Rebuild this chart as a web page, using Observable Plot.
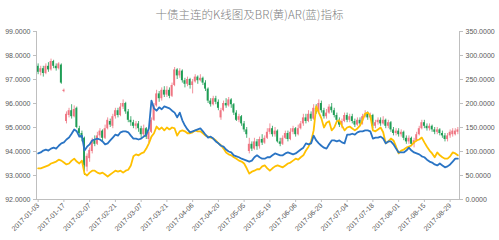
<!DOCTYPE html>
<html>
<head>
<meta charset="utf-8">
<script src="https://cdn.jsdelivr.net/npm/d3@7"></script>
<script src="https://cdn.jsdelivr.net/npm/@observablehq/plot@0.6"></script>
<style>
  body { margin: 0; background: #fff; }
  #wrap { width: 499px; height: 240px; position: relative; overflow: hidden; }
  #title { height: 24px; line-height: 28px; text-align: center; font-family: "Noto Sans CJK SC", sans-serif; font-size: 11.5px; font-weight: 300; color: #7f7f7f; white-space: nowrap; }
</style>
</head>
<body>
<div id="wrap">
  <div id="title">十债主连的K线图及BR(黄)AR(蓝)指标</div>
  <div id="chart"></div>
</div>
<script>
const tickIndex = [0,10,20,30,40,50,60,70,80,90,100,110,120,130,140,150,160];
const tickLabels = ["2017-01-03","2017-01-17","2017-02-07","2017-02-21","2017-03-07","2017-03-21","2017-04-06","2017-04-20","2017-05-05","2017-05-19","2017-06-06","2017-06-20","2017-07-04","2017-07-18","2017-08-01","2017-08-15","2017-08-29"];
const leftTicks = [92,93,94,95,96,97,98,99];
const rightTicks = [0,50,100,150,200,250,300,350];

const open = [
97.55,97.30,97.45,97.25,97.55,97.40,97.75,97.55,97.45,97.60,
96.50,95.25,95.50,95.70,95.45,95.80,94.95,94.75,94.55,93.35,
93.70,94.00,94.45,94.30,94.65,94.85,94.55,94.95,95.25,95.05,
95.45,95.70,95.50,95.85,96.00,95.65,95.30,95.20,95.05,95.15,
94.95,94.70,94.95,94.50,94.80,95.30,95.90,96.40,96.20,96.55,
96.35,96.55,96.30,96.75,97.40,97.15,97.35,96.95,96.80,97.00,
96.75,96.90,97.10,96.95,97.05,96.85,96.60,96.10,95.95,96.20,
96.05,95.40,95.70,96.00,95.90,96.15,95.95,95.60,95.30,95.45,
95.15,94.90,94.00,94.30,94.10,94.40,94.20,94.50,94.35,94.55,
94.80,94.95,94.70,94.85,94.40,94.30,94.55,94.75,94.50,94.80,
94.95,94.70,94.95,95.15,95.40,95.25,95.55,95.35,95.80,95.65,
96.00,95.70,95.45,95.60,95.85,95.70,95.50,95.30,95.10,95.25,
95.50,95.30,95.45,95.25,95.10,95.30,95.15,95.45,95.55,95.40,
95.50,95.05,95.20,95.30,95.15,95.30,95.05,95.20,94.90,94.75,
94.85,94.70,94.80,94.55,94.40,94.55,94.30,94.45,94.70,94.95,
95.20,95.05,94.95,95.05,94.90,94.80,94.90,94.75,94.65,94.50,
94.65,94.70,94.70,94.80];
const close = [
97.30,97.45,97.25,97.55,97.40,97.75,97.55,97.45,97.65,96.85,
96.55,95.55,95.70,95.45,95.75,95.00,94.75,94.55,93.40,93.80,
94.05,94.45,94.30,94.65,94.85,94.55,94.95,95.30,95.10,95.45,
95.70,95.50,95.85,96.00,95.65,95.30,95.20,95.05,95.15,94.95,
94.70,94.95,94.60,94.80,95.30,95.90,96.40,96.20,96.55,96.35,
96.55,96.30,96.75,97.40,97.15,97.35,96.95,96.80,97.00,96.75,
96.90,97.10,96.95,97.05,96.85,96.60,96.10,95.95,96.20,96.05,
95.80,95.70,96.00,95.90,96.15,95.95,95.60,95.30,95.45,95.15,
94.90,94.70,94.30,94.10,94.40,94.20,94.50,94.35,94.55,94.80,
94.95,94.70,94.85,94.40,94.30,94.55,94.75,94.50,94.80,94.95,
94.70,94.95,95.15,95.40,95.25,95.55,95.35,95.80,95.65,96.00,
95.70,95.45,95.60,95.85,95.70,95.50,95.30,95.10,95.25,95.50,
95.30,95.45,95.25,95.10,95.30,95.15,95.45,95.55,95.40,95.50,
95.05,95.20,95.30,95.15,95.30,95.05,95.20,94.90,94.75,94.85,
94.70,94.80,94.55,94.40,94.55,94.30,94.45,94.70,94.95,95.20,
95.05,94.95,95.05,94.90,94.80,94.90,94.75,94.65,94.50,94.65,
94.80,94.85,94.85,94.90];
const high = [
97.65,97.55,97.55,97.65,97.70,97.85,97.80,97.65,97.70,97.65,
96.60,95.65,95.80,95.95,95.90,95.85,95.05,94.85,94.60,93.90,
94.15,94.55,94.65,94.80,94.95,94.90,95.10,95.40,95.35,95.55,
95.80,95.80,96.00,96.15,96.05,95.75,95.45,95.30,95.25,95.25,
95.05,95.10,95.00,94.90,95.40,96.00,96.55,96.50,96.65,96.70,
96.70,96.65,96.85,97.50,97.45,97.45,97.40,97.05,97.10,97.05,
97.00,97.20,97.15,97.20,97.10,96.95,96.65,96.20,96.30,96.30,
96.15,95.80,96.10,96.20,96.25,96.20,96.00,95.70,95.55,95.50,
95.25,95.00,94.55,94.40,94.55,94.50,94.60,94.70,94.65,94.95,
95.15,95.05,95.00,94.90,94.55,94.65,94.85,94.85,94.95,95.05,
95.00,95.10,95.25,95.55,95.55,95.70,95.65,95.95,95.95,96.15,
96.10,95.80,95.75,95.95,96.00,95.80,95.60,95.40,95.35,95.60,
95.60,95.55,95.55,95.35,95.40,95.40,95.55,95.70,95.65,95.60,
95.55,95.30,95.40,95.40,95.45,95.35,95.30,95.25,95.00,94.95,
94.95,94.90,94.85,94.65,94.65,94.60,94.55,94.80,95.05,95.30,
95.30,95.15,95.15,95.10,95.00,95.00,94.95,94.85,94.75,94.75,
94.90,94.95,94.95,95.00];
const low = [
97.20,97.15,97.10,97.20,97.30,97.35,97.45,97.35,97.40,96.80,
96.45,95.15,95.40,95.35,95.40,94.95,94.60,94.40,93.00,93.15,
93.55,93.90,94.20,94.25,94.55,94.40,94.50,94.90,95.00,94.95,
95.35,95.40,95.45,95.75,95.55,95.20,95.05,94.95,94.90,94.80,
94.55,94.60,94.50,94.35,94.75,95.25,95.85,96.05,96.10,96.25,
96.25,96.20,96.25,96.70,97.00,97.05,96.85,96.65,96.70,96.60,
96.40,96.85,96.80,96.90,96.75,96.50,96.00,95.85,95.90,95.95,
95.70,95.30,95.65,95.80,95.85,95.80,95.50,95.25,95.20,95.05,
94.80,94.55,93.90,94.00,94.05,94.05,94.10,94.25,94.30,94.50,
94.70,94.60,94.60,94.35,94.20,94.25,94.50,94.40,94.45,94.70,
94.60,94.65,94.90,95.05,95.15,95.20,95.25,95.30,95.55,95.60,
95.60,95.35,95.35,95.55,95.60,95.40,95.20,95.00,94.95,95.20,
95.20,95.20,95.15,95.00,95.05,95.05,95.10,95.40,95.30,95.30,
94.95,94.95,95.10,95.05,95.10,94.95,94.95,94.80,94.65,94.65,
94.60,94.60,94.45,94.30,94.30,94.20,94.15,94.40,94.65,94.90,
94.95,94.85,94.85,94.80,94.70,94.70,94.65,94.55,94.40,94.40,
94.55,94.60,94.65,94.70];
const br = [
65,65,67,69,71,75,77,79,83,81,
77,73,75,81,85,79,75,81,54,50,
56,60,60,56,54,56,52,48,52,56,
60,58,60,56,60,62,71,90,94,92,
96,98,106,117,131,138,152,146,150,144,
150,146,150,148,133,142,144,142,138,138,
140,144,142,142,138,133,131,129,127,123,
117,113,106,98,94,92,88,85,81,79,
75,65,54,58,60,63,63,69,71,65,
60,65,69,71,69,67,71,75,77,81,
85,83,88,92,102,110,121,144,194,181,
169,150,160,163,144,150,163,165,154,144,
150,152,148,144,148,154,165,179,181,175,
144,142,146,150,140,117,121,127,123,110,
96,102,104,108,110,113,119,123,125,129,
119,110,102,96,88,98,92,88,85,85,
90,98,96,92];
const ar = [
96,98,102,104,102,106,108,106,112,117,
119,125,129,137,146,142,131,133,102,110,
115,123,125,127,125,121,115,117,123,129,
135,133,140,142,142,140,133,127,127,125,
127,131,135,148,206,190,185,192,188,194,
192,190,185,181,171,181,165,154,146,140,
142,144,146,148,142,135,129,131,127,121,
117,112,110,104,100,98,92,90,88,85,
83,81,79,81,88,92,88,85,85,88,
88,92,96,94,92,92,96,98,96,94,
96,100,104,108,117,115,117,133,123,117,
112,108,106,115,123,123,121,123,119,117,
135,135,137,135,140,142,142,144,144,142,
127,129,129,131,127,117,121,121,115,106,
98,98,98,102,108,102,98,96,94,90,
88,83,79,77,73,71,75,71,67,69,
73,79,85,85];

const rows = open.map((o, i) => ({i, o, c: close[i], h: high[i], l: low[i], br: br[i], ar: ar[i]}));
const UP = "#ef7582", DOWN = "#1f9d55";
const candleColor = d => d.c >= d.o ? UP : DOWN;
// right axis (0–350) shares the price scale: 92 + v/50
const toLeft = v => 92 + v / 50;

const chart = Plot.plot({
  width: 499,
  height: 216,
  marginTop: 7,
  marginBottom: 41,
  marginLeft: 36,
  marginRight: 40,
  style: {fontFamily: "'Liberation Sans', Arial, sans-serif", fontSize: "7px", background: "#fff"},
  x: {type: "band", domain: rows.map(d => d.i), padding: 0.28, axis: null},
  y: {domain: [92, 99], axis: null},
  color: {type: "identity"},
  marks: [
    Plot.ruleX(rows, {x: "i", y1: "l", y2: "h", stroke: candleColor, strokeWidth: 0.8}),
    Plot.barY(rows, {x: "i", y1: "o", y2: "c", fill: candleColor}),
    Plot.lineY(rows, {x: "i", y: d => toLeft(d.br), stroke: "#ffc000", strokeWidth: 1.8}),
    Plot.lineY(rows, {x: "i", y: d => toLeft(d.ar), stroke: "#2a74c4", strokeWidth: 1.8}),
    Plot.frame({anchor: "left", stroke: "#bfbfbf"}),
    Plot.frame({anchor: "right", stroke: "#bfbfbf"}),
    Plot.frame({anchor: "bottom", stroke: "#bfbfbf"}),
    Plot.axisY({anchor: "left", ticks: leftTicks, tickFormat: d3.format(".4f"), tickSize: 3, tickPadding: 3, stroke: "#bfbfbf", fill: "#595959", label: null}),
    Plot.axisY({anchor: "right", ticks: rightTicks.map(toLeft), tickFormat: d => ((d - 92) * 50).toFixed(4), tickSize: 3, tickPadding: 3, stroke: "#bfbfbf", fill: "#595959", label: null}),
    Plot.axisX({ticks: tickIndex, tickFormat: i => tickLabels[tickIndex.indexOf(i)], tickRotate: -45, tickSize: 3, tickPadding: 2, stroke: "#bfbfbf", fill: "#595959", label: null})
  ]
});
document.getElementById("chart").appendChild(chart);
</script>
</body>
</html>
